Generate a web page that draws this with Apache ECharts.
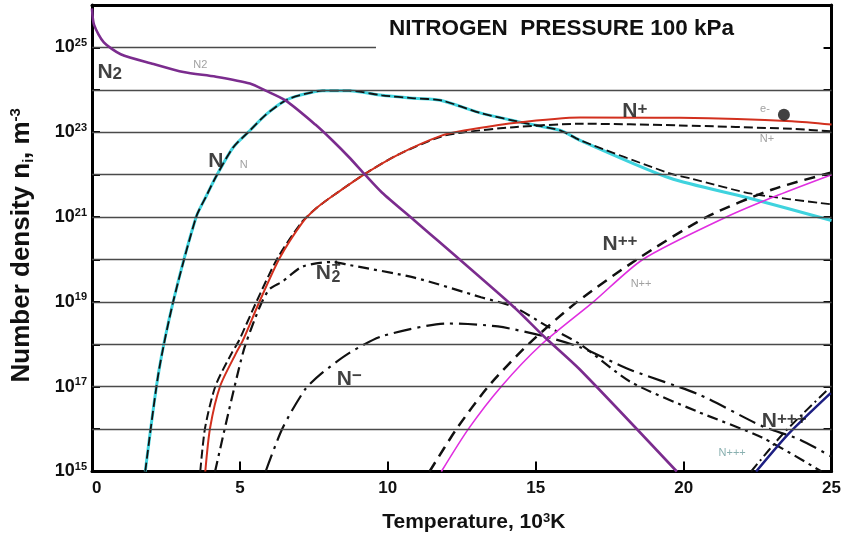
<!DOCTYPE html>
<html><head><meta charset="utf-8">
<script src="https://cdn.jsdelivr.net/npm/echarts@6/dist/echarts.min.js"></script>
<style>html,body{margin:0;padding:0;background:#fff}#c{width:844px;height:538px}</style>
</head><body><div id="c"></div>
<script>
// ---------- data (T in 10^3 K, densities as log10 of n in m^-3) ----------
const gridExps = [16,17,18,19,20,21,22,23,24];
const partialGridExp = 25;
const partialGridEndT = 9.6;

const N2_T = [0, 0.07, 0.40, 0.97, 2.08, 3.09, 4.19, 5.34, 5.87, 6.54, 7.55, 8.12, 8.69, 9.23, 9.80, 10.9, 14.26, 15.27, 16.5, 19.77];
const N2_E = [25.92, 25.53, 25.12, 24.84, 24.61, 24.42, 24.31, 24.15, 23.98, 23.75, 23.18, 22.81, 22.41, 22.0, 21.58, 20.92, 18.88, 18.19, 17.40, 15.0];

const N_T = [1.80, 2.25, 2.75, 3.52, 3.86, 4.19, 4.77, 5.34, 5.87, 6.54, 7.01, 7.79, 8.69, 9.80, 10.9, 11.81, 13.15, 14.6, 15.84, 16.5, 19.53, 22.2, 25];
const N_E = [15.0, 17.33, 19.02, 21.0, 21.49, 21.95, 22.64, 23.04, 23.41, 23.75, 23.87, 23.98, 23.98, 23.87, 23.80, 23.75, 23.45, 23.22, 23.04, 22.81, 21.92, 21.45, 20.92];

const Norig_T = [1.80, 2.25, 2.75, 3.52, 3.86, 4.19, 4.77, 5.34, 5.87, 6.54, 7.01, 7.79, 8.69, 9.80, 10.9, 11.81, 13.15, 14.6, 15.84, 16.5, 19.53, 20.3, 22.3, 25];
const Norig_E = [15.0, 17.33, 19.02, 21.0, 21.49, 21.95, 22.64, 23.04, 23.41, 23.75, 23.87, 23.98, 23.98, 23.87, 23.80, 23.75, 23.45, 23.22, 23.04, 22.81, 22.03, 21.9, 21.55, 21.3];

const E_T = [3.83, 3.99, 4.33, 4.87, 5.10, 5.67, 6.34, 7.11, 7.55, 8.12, 9.23, 10.37, 11.81, 12.58, 14.26, 16.5, 19.87, 23.66, 25];
const E_E = [15.0, 16.02, 17.01, 17.79, 18.09, 19.02, 20.03, 20.87, 21.19, 21.49, 22.02, 22.48, 22.92, 23.04, 23.22, 23.35, 23.34, 23.26, 23.18];

const Np_T = [3.66, 3.82, 4.17, 4.72, 4.97, 5.57, 6.27, 7.08, 7.55, 8.12, 9.23, 10.37, 11.81, 12.58, 14.26, 16.5, 19.87, 23.66, 25];
const Np_E = [15.0, 16.02, 17.01, 17.79, 18.09, 19.02, 20.03, 20.87, 21.19, 21.49, 22.02, 22.48, 22.9, 23.0, 23.12, 23.2, 23.16, 23.08, 23.02];

const N2p_T = [4.16, 5.10, 5.67, 6.0, 6.44, 7.11, 8.12, 8.69, 10.9, 13.15, 14.26, 15.4, 16.5, 18.19, 20.44, 22.65, 24.66];
const N2p_E = [15.0, 17.79, 18.88, 19.3, 19.48, 19.83, 19.94, 19.87, 19.57, 19.11, 18.88, 18.42, 18.0, 17.12, 16.42, 15.8, 15.0];

const Nm_T = [5.87, 6.44, 7.21, 7.79, 8.69, 9.80, 12.05, 13.72, 15.27, 16.5, 18.19, 20.5, 22.65, 23.9, 25];
const Nm_E = [15.0, 16.02, 16.94, 17.33, 17.79, 18.19, 18.49, 18.42, 18.19, 17.93, 17.4, 16.82, 16.07, 15.76, 15.35];

const Npp_T = [11.81, 12.72, 13.83, 15.2, 16.95, 18.62, 21.44, 23.2, 25];
const Npp_E = [15.0, 16.0, 17.0, 18.0, 19.0, 20.0, 21.0, 21.52, 22.0];

const NppOrig_T = [11.41, 12.32, 13.39, 14.75, 16.4, 18.42, 20.77, 23.0, 25];
const NppOrig_E = [15.0, 16.0, 17.0, 18.0, 19.0, 20.0, 21.0, 21.65, 22.05];

const Nppp_T = [22.45, 23.56, 24.97];
const Nppp_E = [15.0, 15.9, 16.85];
const NpppOrig_T = [22.28, 23.4, 24.9];
const NpppOrig_E = [15.0, 15.92, 16.95];

const eDot = [23.39, 23.41];

// text annotations: rich text, T, log10 n
const labelTexts = ['{n|N}{sb|2}', '{g|N2}', '{n|N}', '{g|N}', '{n|N}{sp|+}', '{g|e-}', '{g|N+}',
  '{n|N}', '{sp2|+}\n{sb2|2}', '{n|N}{sp|++}', '{g|N++}', '{n|N}{sp|\u2212}', '{n|N}{sp|+++}', '{t|N+++}'];
const labelT = [0.60, 3.66, 4.19, 5.13, 18.35, 22.75, 22.82, 7.82, 8.25, 17.85, 18.56, 8.7, 23.4, 21.64];
const labelE = [24.42, 24.58, 22.32, 22.23, 23.49, 23.55, 22.85, 19.68, 19.70, 20.37, 19.42, 17.18, 16.18, 15.44];

// ---------- chart ----------
const P = e => Math.pow(10, e);
const pts = (T, E) => T.map((t, i) => [t, P(E[i])]);
const FONT = '"Liberation Sans", Arial, sans-serif';

function curve(name, T, E, color, width, type, z) {
  return {
    name, type: 'line', data: pts(T, E), showSymbol: false, symbol: 'none',
    smooth: 0.25, z: z, silent: true,
    lineStyle: { color, width, type }, clip: true
  };
}

const rich = {
  n: { fontFamily: FONT, fontWeight: 'bold', fontSize: 21, color: '#111', lineHeight: 22, verticalAlign: 'middle' },
  sb: { fontFamily: FONT, fontWeight: 'bold', fontSize: 17, color: '#111', lineHeight: 16, verticalAlign: 'bottom', padding: [10, 0, 0, 0] },
  sp: { fontFamily: FONT, fontWeight: 'bold', fontSize: 17, color: '#111', lineHeight: 14, verticalAlign: 'top' },
  sp2: { fontFamily: FONT, fontWeight: 'bold', fontSize: 16, color: '#111', lineHeight: 11 },
  sb2: { fontFamily: FONT, fontWeight: 'bold', fontSize: 16, color: '#111', lineHeight: 13 },
  g: { fontFamily: FONT, fontSize: 11, color: '#8a8a8a' },
  t: { fontFamily: FONT, fontSize: 11, color: '#6c9c9c' }
};

const labelData = labelTexts.map((txt, i) => ({
  value: [labelT[i], P(labelE[i])],
  label: { formatter: txt }
}));

const gridLineData = gridExps.map(e => ({ yAxis: P(e) }));
gridLineData.push([{ coord: [0, P(partialGridExp)] }, { coord: [partialGridEndT, P(partialGridExp)] }]);

const option = {
  animation: false,
  backgroundColor: '#fff',
  title: {
    text: 'NITROGEN  PRESSURE 100 kPa', left: 384, top: 12,
    textStyle: { fontFamily: FONT, fontWeight: 'bold', fontSize: 22.5, color: '#111' }
  },
  grid: { left: 88, right: 11, top: 5, bottom: 57, containLabel: false },
  xAxis: [{
    type: 'value', min: 0, max: 25, interval: 5, position: 'bottom',
    axisLine: { show: true, onZero: false, lineStyle: { color: '#000', width: 3 } },
    axisTick: { show: true, inside: true, length: 10, lineStyle: { color: '#000', width: 2 } },
    axisLabel: { margin: 8, alignMinLabel: 'left', fontFamily: FONT, fontWeight: 'bold', fontSize: 17, color: '#111' },
    splitLine: { show: false },
    name: '{a|Temperature, 10}{s|3}{a|K}', nameLocation: 'middle', nameGap: 40,
    nameTextStyle: { padding: [0, 0, 0, 24], rich: {
      a: { fontFamily: FONT, fontWeight: 'bold', fontSize: 21, color: '#111', lineHeight: 22 },
      s: { fontFamily: FONT, fontWeight: 'bold', fontSize: 13, color: '#111', lineHeight: 13, verticalAlign: 'top' } } }
  }, {
    type: 'value', min: 0, max: 25, position: 'top',
    axisLine: { show: true, onZero: false, lineStyle: { color: '#000', width: 3 } },
    axisTick: { show: false }, axisLabel: { show: false }, splitLine: { show: false }
  }],
  yAxis: [{
    type: 'log', logBase: 10, min: P(15), max: P(26), interval: 1, position: 'left',
    axisLine: { show: true, onZero: false, lineStyle: { color: '#000', width: 3 } },
    axisTick: { show: true, inside: true, length: 8, lineStyle: { color: '#000', width: 2 } },
    axisLabel: {
      margin: 5, showMaxLabel: false,
      formatter: v => { const e = Math.round(Math.log10(v)); return (e % 2 === 1 && e < 26) ? '{b|10}{s|' + e + '}' : ''; },
      rich: {
        b: { fontFamily: FONT, fontWeight: 'bold', fontSize: 18, color: '#111', lineHeight: 20 },
        s: { fontFamily: FONT, fontWeight: 'bold', fontSize: 11, color: '#111', lineHeight: 12, verticalAlign: 'top' }
      }
    },
    splitLine: { show: false },
    name: '{a|Number density n}{i|i}{a|, m}{s|-3}', nameLocation: 'middle', nameGap: 56, nameRotate: 90,
    nameTextStyle: { padding: [0, 14, 0, 0], rich: {
      a: { fontFamily: FONT, fontWeight: 'bold', fontSize: 26, color: '#111', lineHeight: 28 },
      i: { fontFamily: FONT, fontWeight: 'bold', fontSize: 14, color: '#111', lineHeight: 22, verticalAlign: 'bottom' },
      s: { fontFamily: FONT, fontWeight: 'bold', fontSize: 15, color: '#111', lineHeight: 15, verticalAlign: 'top' } } }
  }, {
    type: 'log', logBase: 10, min: P(15), max: P(26), interval: 1, position: 'right',
    axisLine: { show: true, onZero: false, lineStyle: { color: '#000', width: 3 } },
    axisTick: { show: true, inside: true, length: 8, lineStyle: { color: '#000', width: 2 } },
    axisLabel: { show: false }, splitLine: { show: false }
  }],
  series: [
    { type: 'line', data: [[0, P(15)]], symbol: 'none', silent: true, z: 1, lineStyle: { opacity: 0 },
      markLine: { symbol: 'none', silent: true, label: { show: false },
        lineStyle: { color: '#4a4a4a', width: 1.3, type: 'solid' }, data: gridLineData } },
    curve('N orig', Norig_T, Norig_E, '#111', 1.8, [9, 4], 3),
    curve('N', N_T, N_E, '#3fd3de', 3, 'solid', 2),
    curve('N+ orig', Np_T, Np_E, '#111', 2, [9, 4], 3),
    curve('e-', E_T, E_E, '#d2301e', 2, 'solid', 4),
    curve('N2+', N2p_T, N2p_E, '#111', 2.2, [11, 5, 3, 5], 3),
    curve('N-', Nm_T, Nm_E, '#111', 2.2, [18, 6, 3, 6], 3),
    curve('N++ orig', NppOrig_T, NppOrig_E, '#111', 2.5, [11, 7], 3),
    curve('N++', Npp_T, Npp_E, '#e02fe0', 1.6, 'solid', 4),
    curve('N+++ orig', NpppOrig_T, NpppOrig_E, '#111', 2, [10, 4, 2, 4], 3),
    curve('N+++', Nppp_T, Nppp_E, '#1d1f82', 2.5, 'solid', 4),
    curve('N2', N2_T, N2_E, '#7b2c8e', 2.6, 'solid', 5),
    { type: 'scatter', data: [[eDot[0], P(eDot[1])]], symbol: 'circle', symbolSize: 12, itemStyle: { color: '#111' }, z: 6, silent: true },
    { type: 'scatter', data: labelData, symbolSize: 1, itemStyle: { color: 'rgba(0,0,0,0)' }, z: 7, silent: true,
      label: { show: true, position: 'inside', rich: rich, align: 'center', verticalAlign: 'middle' } }
  ]
};
const chart = echarts.init(document.getElementById('c'));
chart.setOption(option);
</script>
</body></html>
